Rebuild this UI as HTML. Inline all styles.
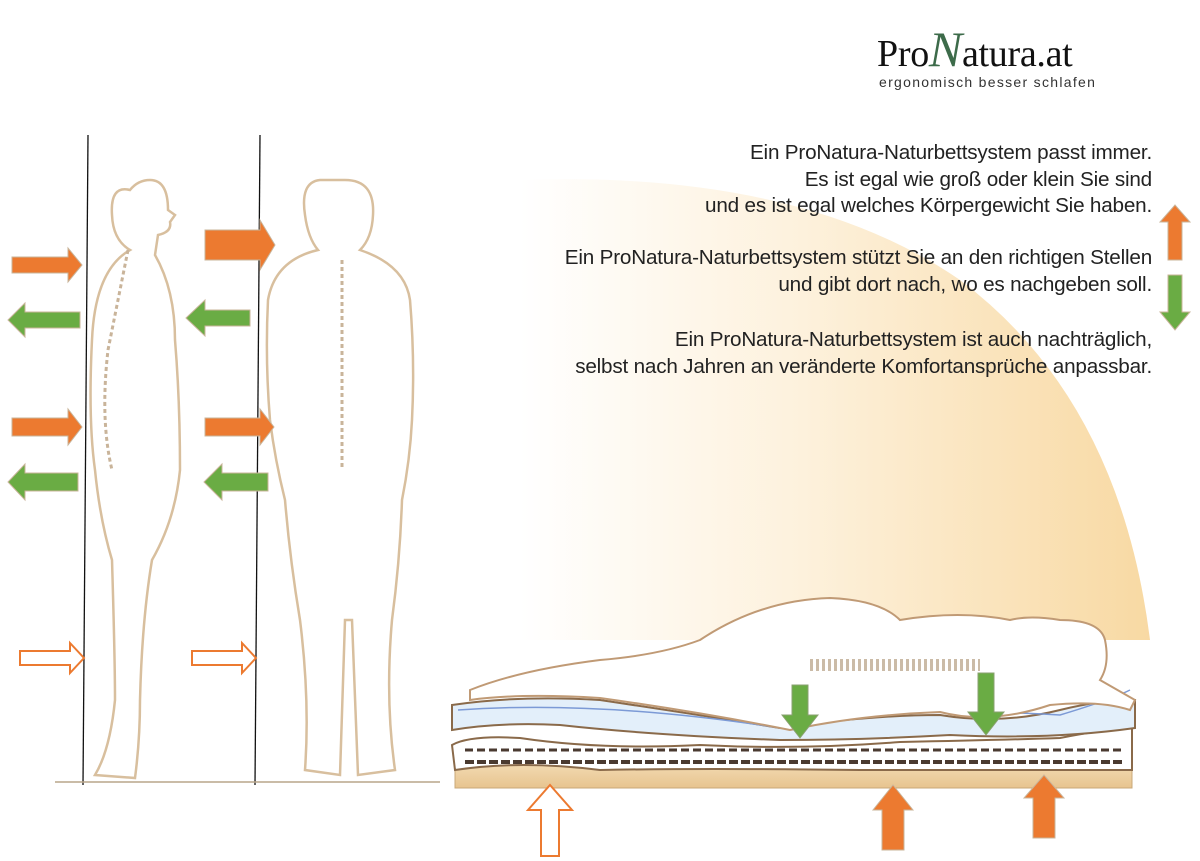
<!DOCTYPE html>
<html><head><meta charset="utf-8"><style>
body{margin:0;width:1200px;height:861px;background:#fff;overflow:hidden;position:relative;font-family:"Liberation Sans",sans-serif}
svg{position:absolute;left:0;top:0}
.t{position:absolute;right:48px;text-align:right;font-size:20.7px;color:#222;line-height:26.5px;letter-spacing:-0.2px;white-space:nowrap}
</style></head><body>
<svg width="1200" height="861" viewBox="0 0 1200 861">
<defs>
<linearGradient id="g" x1="0" x2="1"><stop offset="0" stop-color="#fff"/><stop offset="0.45" stop-color="#fdf1dc"/><stop offset="1" stop-color="#f8d9a3"/></linearGradient>
<linearGradient id="sand" x1="0" y1="0" x2="0" y2="1"><stop offset="0" stop-color="#f2d9b0"/><stop offset="1" stop-color="#e7c48f"/></linearGradient>
</defs>
<path d="M520 180 Q800 170 960 280 Q1120 400 1150 640 L520 640 Z" fill="url(#g)"/>
<line x1="88" y1="135" x2="83" y2="785" stroke="#111" stroke-width="1.3"/>
<line x1="260" y1="135" x2="255" y2="785" stroke="#111" stroke-width="1.3"/>
<line x1="55" y1="782" x2="440" y2="782" stroke="#b9a58a" stroke-width="1.5"/>
<g fill="none" stroke="#d8bf9e" stroke-width="2.5">
<path d="M130 190 Q110 185 112 215 Q113 240 130 250 Q95 270 92 340 Q88 420 95 470 Q100 520 112 560 Q115 660 115 700 Q110 750 95 775 L135 778 Q140 740 140 700 Q142 620 152 560 Q175 520 180 470 Q180 400 175 340 Q175 290 155 255 L158 235 Q172 232 170 222 L175 215 L168 210 Q168 180 150 180 Q138 180 130 190Z"/>
<path d="M320 180 Q300 182 305 215 Q308 238 318 250 Q275 260 268 300 Q265 360 270 420 Q275 460 285 500 Q290 560 300 620 Q310 700 305 770 L340 775 L345 620 L352 620 L358 775 L395 770 Q385 700 392 620 Q400 560 402 500 Q410 460 412 420 Q415 360 410 300 Q405 265 360 250 Q372 238 373 215 Q375 180 345 180 Z"/>
</g>
<g stroke="#c9b49a" stroke-width="3" stroke-dasharray="4 3" fill="none">
<path d="M128 250 Q118 300 108 350 Q100 420 112 470"/>
<path d="M342 260 L342 470"/>
</g>
<g>
<path d="M12 257 H68 V248 L82 265 L68 282 V273 H12Z" fill="#ec7a30" stroke="#c9b49a"/>
<path d="M80 312 H25 V303 L8 320 L25 337 V328 H80Z" fill="#6aac44" stroke="#c9b49a"/>
<path d="M12 418 H68 V409 L82 427 L68 445 V436 H12Z" fill="#ec7a30" stroke="#c9b49a"/>
<path d="M78 473 H25 V464 L8 482 L25 500 V491 H78Z" fill="#6aac44" stroke="#c9b49a"/>
<path d="M205 230 H260 V220 L275 245 L260 270 V260 H205Z" fill="#ec7a30" stroke="#c9b49a"/>
<path d="M250 310 H205 V300 L186 318 L205 336 V326 H250Z" fill="#6aac44" stroke="#c9b49a"/>
<path d="M205 418 H260 V409 L274 427 L260 445 V436 H205Z" fill="#ec7a30" stroke="#c9b49a"/>
<path d="M268 473 H222 V464 L204 482 L222 500 V491 H268Z" fill="#6aac44" stroke="#c9b49a"/>
<path d="M20 651 H70 V643 L84 658 L70 673 V665 H20Z" fill="#fff" stroke="#ec7a30" stroke-width="2"/>
<path d="M192 651 H242 V643 L256 658 L242 673 V665 H192Z" fill="#fff" stroke="#ec7a30" stroke-width="2"/>
<path d="M1168 260 V222 H1160 L1175 205 L1190 222 H1182 V260Z" fill="#ec7a30" stroke="#c9b49a"/>
<path d="M1168 275 V312 H1160 L1175 330 L1190 312 H1182 V275Z" fill="#6aac44" stroke="#c9b49a"/>
</g>
<path d="M455 765 H1132 V788 H455Z" fill="url(#sand)" stroke="#c9a878"/>
<path d="M455 760 Q520 750 560 755 Q620 770 700 765 L1132 758 V765 H455Z" fill="#f2d9b0"/>
<path d="M452 745 Q470 735 520 738 Q600 750 700 745 Q800 750 900 742 Q1000 740 1060 738 Q1100 730 1132 728 V770 L860 770 Q700 768 600 770 Q520 760 455 770Z" fill="#fff" stroke="#8a6a4a" stroke-width="2"/>
<path d="M465 750 H1125" stroke="#4a3a30" stroke-width="3" stroke-dasharray="8 4"/>
<path d="M465 762 H1125" stroke="#4a3a30" stroke-width="4" stroke-dasharray="9 3"/>
<path d="M452 705 Q520 695 600 700 Q700 715 780 728 Q870 715 940 715 Q1000 725 1060 710 Q1100 700 1135 700 L1135 728 Q1050 740 950 735 Q860 740 780 740 Q650 735 560 725 Q500 722 452 730Z" fill="#e3effa" stroke="#8a6a4a" stroke-width="2"/>
<path d="M458 710 Q600 700 780 728 Q900 705 1060 715 Q1110 700 1130 690" fill="none" stroke="#7c9ad6" stroke-width="1.5"/>
<path d="M470 690 Q520 670 600 660 Q660 655 700 640 Q760 600 830 598 Q880 600 900 620 Q960 610 1010 620 Q1030 615 1060 620 Q1100 620 1105 640 Q1110 665 1100 680 L1135 700 L1130 710 Q1100 700 1050 705 Q990 725 940 712 Q860 715 790 730 Q700 712 600 698 Q520 693 470 700Z" fill="#fff" stroke="#c09a75" stroke-width="2"/>
<path d="M810 665 H980" stroke="#cbbba7" stroke-width="12" stroke-dasharray="3 3"/>
<path d="M792 685 V715 H782 L800 738 L818 715 H808 V685Z" fill="#6aac44" stroke="#8aa070"/>
<path d="M978 673 V712 H968 L986 735 L1004 712 H994 V673Z" fill="#6aac44" stroke="#8aa070"/>
<path d="M541 856 V810 H528 L550 785 L572 810 H559 V856Z" fill="#fff" stroke="#ec7a30" stroke-width="2"/>
<path d="M882 850 V810 H873 L893 785 L913 810 H904 V850Z" fill="#ec7a30" stroke="#c9b49a"/>
<path d="M1033 838 V798 H1024 L1044 775 L1064 798 H1055 V838Z" fill="#ec7a30" stroke="#c9b49a"/>
</svg>
<div style="position:absolute;left:877px;top:34px;font-family:'Liberation Serif',serif;font-size:38px;color:#111;letter-spacing:-0.3px;line-height:40px">Pro<span style="color:#3d6b4a;font-style:italic;font-size:50px;line-height:0">N</span>atura.at</div>
<div style="position:absolute;left:879px;top:74px;font-size:14px;color:#333;letter-spacing:1.3px">ergonomisch besser schlafen</div>
<div class="t" style="top:140px">Ein ProNatura-Naturbettsystem passt immer.<br>Es ist egal wie groß oder klein Sie sind<br>und es ist egal welches Körpergewicht Sie haben.</div>
<div class="t" style="top:245px">Ein ProNatura-Naturbettsystem stützt Sie an den richtigen Stellen<br>und gibt dort nach, wo es nachgeben soll.</div>
<div class="t" style="top:327px">Ein ProNatura-Naturbettsystem ist auch nachträglich,<br>selbst nach Jahren an veränderte Komfortansprüche anpassbar.</div>
</body></html>
